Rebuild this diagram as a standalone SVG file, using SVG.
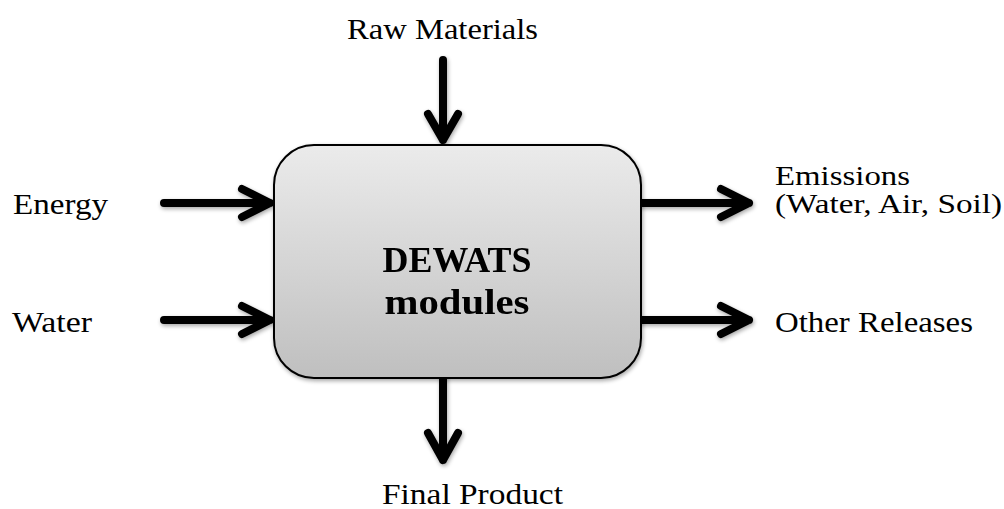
<svg xmlns="http://www.w3.org/2000/svg" width="1004" height="509" viewBox="0 0 1004 509">
<style>
.lbl{font-family:"Liberation Serif","DejaVu Serif",serif;font-size:29px;fill:#000}
.sm{font-size:27px}
.title{font-family:"Liberation Serif","DejaVu Serif",serif;font-size:36px;font-weight:bold;fill:#000}
.arr{fill:none;stroke:#000;stroke-width:8;stroke-linecap:round;stroke-linejoin:round}
</style>
<defs>
<linearGradient id="g" x1="0" y1="0" x2="0" y2="1">
<stop offset="0" stop-color="#ebebeb"/>
<stop offset="1" stop-color="#bfbfbf"/>
</linearGradient>
<filter id="sh" x="-10%" y="-10%" width="130%" height="130%">
<feGaussianBlur in="SourceAlpha" stdDeviation="2"/>
<feOffset dx="1" dy="2" result="b"/>
<feComponentTransfer><feFuncA type="linear" slope="0.35"/></feComponentTransfer>
<feMerge><feMergeNode/><feMergeNode in="SourceGraphic"/></feMerge>
</filter>
</defs>
<g id="connectors" filter="url(#sh)">
<path class="arr" d="M443 60 V140 M428 114 L443 140 L458 114"/>
<path class="arr" d="M164 203 H270 M242 189 L270 203 L242 217"/>
<path class="arr" d="M164 320 H270 M242 306 L270 320 L242 334"/>
<path class="arr" d="M641 203 H749 M721 189 L749 203 L721 217"/>
<path class="arr" d="M641 320 H749 M721 306 L749 320 L721 334"/>
<path class="arr" d="M443 378 V460 M428 433 L443 460 L458 433"/>
</g>
<g id="module" filter="url(#sh)">
<rect x="274" y="145" width="367" height="233" rx="40" ry="40" fill="url(#g)" stroke="#000" stroke-width="2"/>
<text class="title" x="457" y="272" text-anchor="middle" textLength="149" lengthAdjust="spacingAndGlyphs">DEWATS</text>
<text class="title" x="457" y="314" text-anchor="middle" textLength="145" lengthAdjust="spacingAndGlyphs">modules</text>
</g>
<g id="raw"><text class="lbl" x="347" y="39" textLength="191" lengthAdjust="spacingAndGlyphs">Raw Materials</text></g>
<g id="energy"><text class="lbl" x="13" y="214" textLength="95" lengthAdjust="spacingAndGlyphs">Energy</text></g>
<g id="water"><text class="lbl" x="12" y="332" textLength="80" lengthAdjust="spacingAndGlyphs">Water</text></g>
<g id="emissions"><text class="lbl sm" x="775" y="185" textLength="135" lengthAdjust="spacingAndGlyphs">Emissions</text><text class="lbl sm" x="775" y="213" textLength="227" lengthAdjust="spacingAndGlyphs">(Water, Air, Soil)</text></g>
<g id="other"><text class="lbl" x="775" y="332" textLength="198" lengthAdjust="spacingAndGlyphs">Other Releases</text></g>
<g id="final"><text class="lbl" x="382" y="504" textLength="181" lengthAdjust="spacingAndGlyphs">Final Product</text></g>
</svg>
